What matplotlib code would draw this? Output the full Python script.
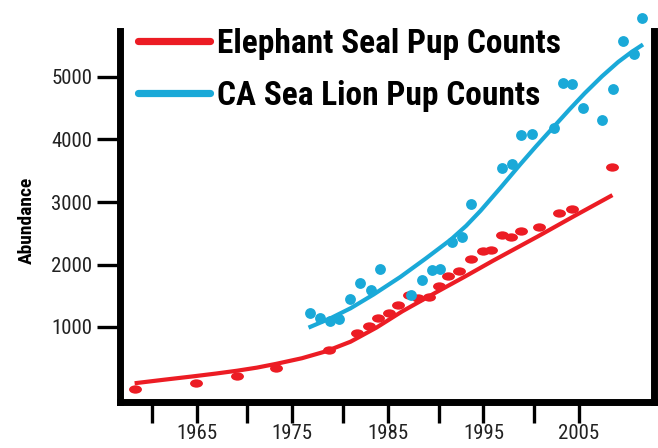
import matplotlib.pyplot as plt
from matplotlib.markers import MarkerStyle
from matplotlib.transforms import Affine2D

plt.rcParams['font.family'] = ['Roboto Condensed', 'DejaVu Sans']

RED = "#ec1c24"
BLUE = "#1aa9d8"

# elephant seal pup counts (points)
seal_years = [1958.5, 1964.9, 1969.2, 1973.3, 1978.8, 1981.8, 1983.0, 1984.0, 1985.1,
              1986.1, 1987.2, 1988.2, 1989.3, 1990.3, 1991.3, 1992.4, 1993.7, 1995.0,
              1995.8, 1996.9, 1997.9, 1998.9, 2000.8, 2002.9, 2004.3, 2008.5]
seal_counts = [15, 110, 215, 340, 630, 900, 1020, 1150, 1220,
               1360, 1510, 1460, 1485, 1650, 1820, 1890, 2085, 2220,
               2235, 2470, 2440, 2540, 2600, 2820, 2890, 3565]

# sea lion pup counts (points)
lion_years = [1976.9, 1977.9, 1978.9, 1979.9, 1981.0, 1982.1, 1983.2, 1984.2, 1987.4,
              1988.6, 1989.6, 1990.5, 1991.7, 1992.8, 1993.7, 1996.9, 1998.0, 1998.9,
              2000.1, 2002.4, 2003.3, 2004.3, 2005.4, 2007.4, 2008.6, 2009.6, 2010.8, 2011.6]
lion_counts = [1220, 1140, 1100, 1125, 1450, 1700, 1590, 1930, 1510,
               1750, 1915, 1930, 2365, 2435, 2960, 3540, 3600, 4070,
               4080, 4185, 4910, 4890, 4500, 4310, 4800, 5580, 5370, 5940]

# trend lines
seal_fit_years = [1958.5, 1961.5, 1964.6, 1967.0, 1969.2, 1971.3, 1973.3, 1976.0, 1978.5,
                  1981.1, 1983.8, 1986.5, 1990.0, 1993.1, 1996.0, 2000.7, 2004.5, 2008.5]
seal_fit = [100, 155, 210, 255, 300, 350, 410, 500, 610,
            765, 990, 1250, 1550, 1810, 2060, 2450, 2775, 3110]

lion_fit_years = [1976.7, 1979.0, 1981.1, 1983.5, 1986.3, 1989.0, 1991.6, 1993.2, 1994.7,
                  1996.8, 1998.9, 2000.5, 2002.1, 2004.0, 2005.6, 2007.4, 2009.1, 2010.5, 2011.7]
lion_fit = [990, 1140, 1300, 1520, 1800, 2100, 2400, 2620, 2860,
            3230, 3610, 3890, 4160, 4480, 4740, 5010, 5240, 5400, 5520]

major_years = [1965, 1975, 1985, 1995, 2005]
minor_years = [1960.3, 1970.3, 1980.3, 1990.3, 2000.3]
y_ticks = [1000, 2000, 3000, 4000, 5000]

fig = plt.figure(figsize=(6.58, 4.48), dpi=100)
ax = fig.add_axes([120 / 658, 46 / 448, 534 / 658, 371 / 448])

ellipse = MarkerStyle("o", transform=Affine2D().scale(1.55, 1.0))
ax.scatter(seal_years, seal_counts, marker=ellipse, s=6.0 ** 2, color=RED,
           linewidths=0, clip_on=False, zorder=3)
ax.scatter(lion_years, lion_counts, marker="o", s=7.8 ** 2, color=BLUE,
           linewidths=0, clip_on=False, zorder=3)

ax.plot(seal_fit_years, seal_fit, color=RED, lw=3, solid_capstyle="butt",
        solid_joinstyle="round", label="Elephant Seal Pup Counts", clip_on=False)
ax.plot(lion_fit_years, lion_fit, color=BLUE, lw=3, solid_capstyle="butt",
        solid_joinstyle="round", label="CA Sea Lion Pup Counts", clip_on=False)

ax.set_xlim(1956.97, 2012.85)
ax.set_ylim(-200, 5736)

ax.set_xticks(major_years)
ax.set_xticklabels([str(y) for y in major_years])
ax.set_xticks(minor_years, minor=True)
ax.set_yticks(y_ticks)
ax.set_yticklabels([str(v) for v in y_ticks])

ax.tick_params(axis="x", which="both", direction="out", length=15, width=2.4,
               labelsize=15, pad=0.5, colors="black", labelcolor="#222222")
ax.tick_params(axis="y", which="both", direction="out", length=16.5, width=2.4,
               labelsize=15, pad=3.5, colors="black", labelcolor="#222222")

ax.spines["top"].set_visible(False)
for side in ["left", "bottom", "right"]:
    ax.spines[side].set_linewidth(5)
    ax.spines[side].set_color("black")

ax.set_ylabel("Abundance", fontsize=14, fontweight="bold")
ax.yaxis.set_label_coords(-0.158, 0.49)

leg = ax.legend(loc="upper left", bbox_to_anchor=(138 / 658, 1 - 28 / 448),
                bbox_transform=fig.transFigure, frameon=False, borderpad=0,
                borderaxespad=0, handlelength=2.15, handletextpad=0.21,
                labelspacing=0.6, prop={"size": 24, "weight": "bold"})
for line in leg.get_lines():
    line.set_linewidth(5.2)
    line.set_solid_capstyle("round")

fig.savefig("out.png", dpi=100)
